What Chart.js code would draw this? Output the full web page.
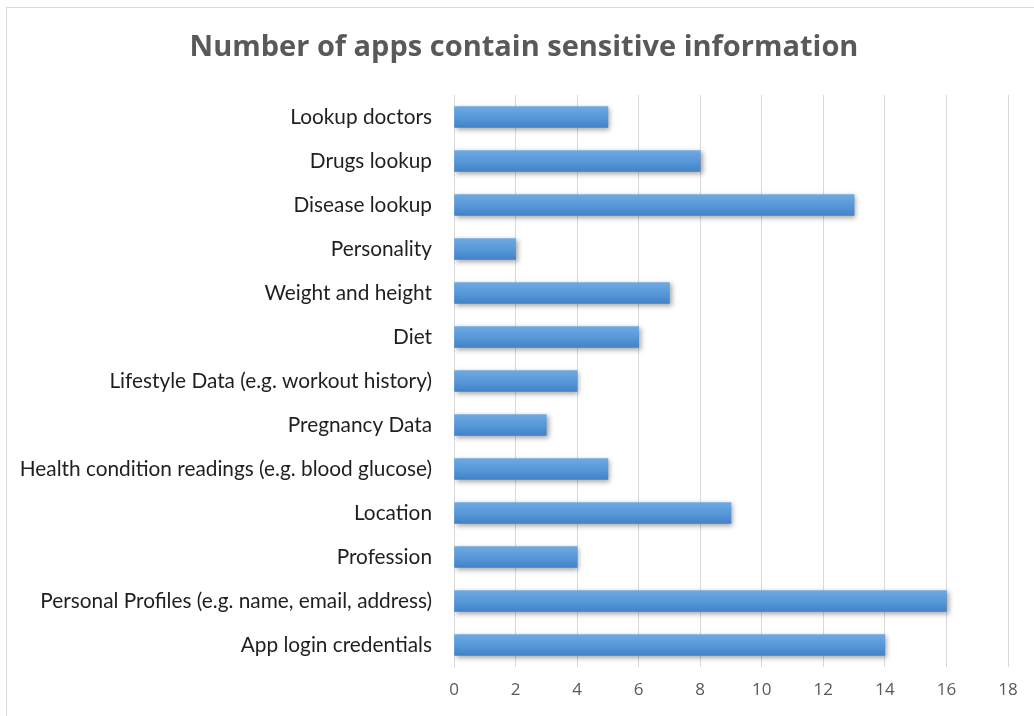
<!DOCTYPE html>
<html>
<head>
<meta charset="utf-8">
<script src="https://cdn.jsdelivr.net/npm/chart.js@4.4.1/dist/chart.umd.min.js"></script>
<style>
  html, body { margin: 0; padding: 0; background: #fff; overflow: hidden; }
  #frame { position: absolute; left: 6px; top: 7px; width: 1100px; height: 800px; border: 1px solid #d9d9d9; }
  #wrap { position: absolute; left: 0; top: 0; width: 1034px; height: 716px; }
</style>
</head>
<body>
<div id="frame"></div>
<div id="wrap"><canvas id="appsChart"></canvas></div>
<script>
// --- DATA ---
const categories = [
    'Lookup doctors',
    'Drugs lookup',
    'Disease lookup',
    'Personality',
    'Weight and height',
    'Diet',
    'Lifestyle Data (e.g. workout history)',
    'Pregnancy Data',
    'Health condition readings (e.g. blood glucose)',
    'Location',
    'Profession',
    'Personal Profiles (e.g. name, email, address)',
    'App login credentials'
];
const appCounts = [5, 8, 13, 2, 7, 6, 4, 3, 5, 9, 4, 16, 14];
const xTicks = [0, 2, 4, 6, 8, 10, 12, 14, 16, 18];
const chartTitle = 'Number of apps contain sensitive information';

const FONT = 'Open Sans';
const LABEL_FONT = 'Lato';
const BAR_THICK = 21;

// soft drop shadow under the bars, like the office chart
const barShadow = {
    id: 'barShadow',
    beforeDatasetsDraw(chart) {
        const ctx = chart.ctx;
        ctx.save();
        ctx.shadowColor = 'rgba(0,0,0,0.35)';
        ctx.shadowBlur = 5;
        ctx.shadowOffsetX = 2;
        ctx.shadowOffsetY = 2;
    },
    afterDatasetsDraw(chart) {
        chart.ctx.restore();
    }
};

// title is centred on the whole chart frame (which runs past the right edge),
// not on the layout box, so draw it here
const frameTitle = {
    id: 'frameTitle',
    afterDraw(chart) {
        const ctx = chart.ctx;
        ctx.save();
        ctx.font = 'bold 29px "' + FONT + '"';
        ctx.fillStyle = '#595959';
        ctx.textAlign = 'center';
        ctx.textBaseline = 'middle';
        ctx.fillText(chartTitle, 524, 48);
        ctx.restore();
    }
};

function barGradient(c) {
    const chart = c.chart;
    const yScale = chart.scales.y;
    if (!yScale || c.dataIndex === undefined) return '#5597d8';
    const cy = yScale.getPixelForValue(c.dataIndex);
    if (!isFinite(cy)) return '#5597d8';
    const g = chart.ctx.createLinearGradient(0, cy - BAR_THICK / 2, 0, cy + BAR_THICK / 2);
    g.addColorStop(0, '#6ea9e2');
    g.addColorStop(0.5, '#5899da');
    g.addColorStop(1, '#4282c8');
    return g;
}

new Chart(document.getElementById('appsChart'), {
    type: 'bar',
    data: {
        labels: categories,
        datasets: [{
            label: 'Apps',
            data: appCounts,
            backgroundColor: barGradient,
            borderWidth: 0,
            barThickness: BAR_THICK
        }]
    },
    options: {
        indexAxis: 'y',
        responsive: true,
        maintainAspectRatio: false,
        animation: false,
        layout: { padding: { left: 0, right: 26, top: 95, bottom: 0 } },
        plugins: {
            legend: { display: false },
            tooltip: { enabled: false },
            title: { display: false }
        },
        scales: {
            x: {
                min: 0,
                max: 18,
                afterBuildTicks(axis) { axis.ticks = xTicks.map(v => ({ value: v })); },
                afterFit(axis) { axis.height = 49; },
                grid: { color: '#d9d9d9', drawTicks: false },
                border: { display: false },
                ticks: {
                    color: '#595959',
                    padding: 13,
                    font: { family: FONT, size: 17 }
                }
            },
            y: {
                afterFit(axis) { axis.width = 454; },
                grid: { display: false },
                border: { display: true, color: '#d9d9d9' },
                ticks: {
                    color: '#1f1f1f',
                    padding: 14,
                    font: { family: LABEL_FONT, size: 20.8 }
                }
            }
        }
    },
    plugins: [barShadow, frameTitle]
});
</script>
</body>
</html>
